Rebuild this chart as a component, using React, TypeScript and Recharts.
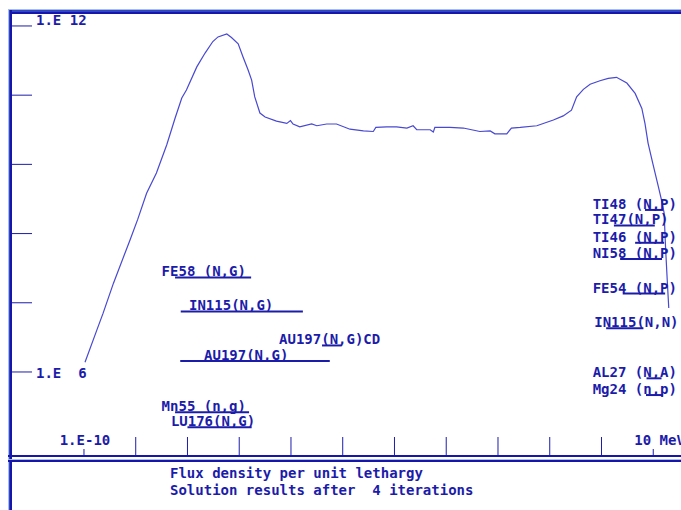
import React from 'react';
import { ComposedChart, Line, Scatter, XAxis, YAxis, ReferenceLine } from 'recharts';

// log10(E / MeV) and log10(flux)
const energyLog = [
  -9.98, -9.75, -9.63, -9.43, -9.11, -8.96, -8.79, -8.6, -8.4, -8.24, -8.11, -8.02, -7.82, -7.66,
  -7.51, -7.41, -7.24, -7.15, -7.02, -6.93, -6.83, -6.76, -6.7, -6.6, -6.5, -6.28, -6.08, -6.01,
  -5.96, -5.83, -5.6, -5.5, -5.31, -5.12, -4.86, -4.6, -4.41, -4.36, -4.15, -3.96, -3.76, -3.64,
  -3.57, -3.31, -3.25, -3.22, -2.93, -2.67, -2.51, -2.35, -2.15, -2.06, -1.83, -1.74, -1.57, -1.25,
  -0.93, -0.74, -0.58, -0.48, -0.35, -0.22, -0.03, 0.13, 0.29, 0.49, 0.65, 0.78, 0.84, 0.9, 0.99,
  1.1, 1.16, 1.21, 1.24, 1.27, 1.3,
];
const fluxLog = [
  6.17, 6.73, 7.02, 7.54, 8.29, 8.65, 9.1, 9.45, 9.94, 10.4, 10.75, 10.89, 11.29, 11.53, 11.73,
  11.81, 11.86, 11.8, 11.69, 11.47, 11.24, 11.06, 10.77, 10.49, 10.42, 10.35, 10.31, 10.36, 10.3,
  10.25, 10.3, 10.27, 10.3, 10.3, 10.21, 10.18, 10.17, 10.24, 10.25, 10.25, 10.23, 10.27, 10.2,
  10.2, 10.16, 10.24, 10.24, 10.23, 10.2, 10.17, 10.18, 10.13, 10.13, 10.23, 10.24, 10.27, 10.37,
  10.44, 10.54, 10.77, 10.9, 10.99, 11.05, 11.09, 11.11, 11.01, 10.83, 10.57, 10.31, 9.97, 9.62,
  9.21, 8.98, 8.76, 8.12, 7.6, 7.11,
];

// reaction labels: text start (log E), underline level (log flux), response range (log E)
const reactionNames = [
  'FE58 (N,G)', 'IN115(N,G)', 'AU197(N,G)CD', 'AU197(N,G)', 'Mn55 (n,g)', 'LU176(N,G)',
  'TI48 (N,P)', 'TI47(N,P)', 'TI46 (N,P)', 'NI58 (N,P)', 'FE54 (N,P)', 'IN115(N,N)',
  'AL27 (N,A)', 'Mg24 (n,p)',
];
const reactionTextE = [-8.5, -7.97, -6.23, -7.68, -8.5, -8.32, -0.17, -0.17, -0.17, -0.17, -0.17, -0.14, -0.17, -0.17];
const reactionLevel = [7.64, 7.05, 6.46, 6.19, 5.3, 5.04, 8.81, 8.54, 8.24, 7.96, 7.36, 6.76, 5.89, 5.6];
const reactionLo = [-8.24, -8.13, -5.4, -8.14, -8.24, -8.0, 0.84, 0.24, 0.65, 0.36, 0.41, 0.09, 0.87, 0.86];
const reactionHi = [-6.77, -5.77, -5.02, -5.25, -6.81, -6.76, 1.19, 1.03, 1.21, 1.17, 1.23, 0.81, 1.16, 1.19];

const xTicks = [-10, -9, -8, -7, -6, -5, -4, -3, -2, -1, 0, 1];
const xTickLabels = ['1.E-10', '', '', '', '', '', '', '', '', '', '', '10 MeV'];
const yTicks = [6, 7.2, 8.4, 9.6, 10.8, 12];
const yTickLabels = ['1.E  6', '', '', '', '', '1.E 12'];
const captionLines = ['Flux density per unit lethargy', 'Solution results after  4 iterations'];

const curve = energyLog.map((x, i) => ({ x, y: fluxLog[i] }));
const reactions = reactionNames.map((name, i) => ({ name, x: reactionTextE[i], y: reactionLevel[i] }));

const CHART_W = 720;
const CHART_H = 510;
const PLOT_LEFT = 11;
const PLOT_TOP = 12;
const PLOT_BOTTOM = 456;
const X_DOMAIN: [number, number] = [-11.41, 2.29];
const Y_DOMAIN: [number, number] = [4.543, 12.242];

const TEXT = '#1c1caa';
const LINE = '#4848d2';
const FONT = "'DejaVu Sans Mono', monospace";

const textStyle = { whiteSpace: 'pre' as const };

const XTick = (props: any) => {
  const { x, index } = props;
  const label = xTickLabels[index];
  const top = label ? PLOT_BOTTOM - 7 : PLOT_BOTTOM - 19;
  const last = index === xTicks.length - 1;
  return (
    <g>
      <line x1={x} x2={x} y1={PLOT_BOTTOM} y2={top} stroke={TEXT} strokeWidth={1} />
      {label && (
        <text
          x={last ? x - 19 : x + 1}
          y={PLOT_BOTTOM - 11}
          textAnchor={last ? 'start' : 'middle'}
          fill={TEXT}
          fontFamily={FONT}
          fontSize={14}
          fontWeight="bold"
          xmlSpace="preserve"
          style={textStyle}
        >
          {label}
        </text>
      )}
    </g>
  );
};

const YTick = (props: any) => {
  const { y, index } = props;
  const label = yTickLabels[index];
  const top = index === yTicks.length - 1;
  return (
    <g>
      <line x1={PLOT_LEFT} x2={PLOT_LEFT + 21} y1={y} y2={y} stroke={TEXT} strokeWidth={1} />
      {label && (
        <text
          x={PLOT_LEFT + 25}
          y={top ? y - 1 : y + 6}
          fill={TEXT}
          fontFamily={FONT}
          fontSize={14}
          fontWeight="bold"
          xmlSpace="preserve"
          style={textStyle}
        >
          {label}
        </text>
      )}
    </g>
  );
};

const ReactionLabel = (props: any) => {
  const { cx, cy, payload } = props;
  return (
    <text
      x={cx}
      y={cy - 1}
      fill={TEXT}
      fontFamily={FONT}
      fontSize={14}
      fontWeight="bold"
      xmlSpace="preserve"
      style={textStyle}
    >
      {payload.name}
    </text>
  );
};

export default function App() {
  return (
    <div
      style={{
        position: 'absolute',
        left: 0,
        top: 0,
        width: 681,
        height: 510,
        overflow: 'hidden',
        background: '#ffffff',
      }}
    >
      <ComposedChart
        width={CHART_W}
        height={CHART_H}
        margin={{ top: PLOT_TOP, left: PLOT_LEFT - 1, right: 0, bottom: CHART_H - PLOT_BOTTOM - 1 }}
      >
        <XAxis
          dataKey="x"
          type="number"
          domain={X_DOMAIN}
          allowDataOverflow
          ticks={xTicks}
          interval={0}
          height={1}
          tickSize={0}
          tickMargin={0}
          tickLine={false}
          axisLine={{ stroke: TEXT, strokeWidth: 2 }}
          tick={<XTick />}
        />
        <YAxis
          dataKey="y"
          type="number"
          domain={Y_DOMAIN}
          allowDataOverflow
          ticks={yTicks}
          interval={0}
          width={1}
          tickSize={0}
          tickMargin={0}
          tickLine={false}
          axisLine={{ stroke: TEXT, strokeWidth: 2 }}
          tick={<YTick />}
        />
        <Line
          data={curve}
          dataKey="y"
          type="linear"
          stroke={LINE}
          strokeWidth={1.2}
          dot={false}
          activeDot={false}
          isAnimationActive={false}
        />
        {reactionNames.map((name, i) => (
          <ReferenceLine
            key={name + i}
            segment={[
              { x: reactionLo[i], y: reactionLevel[i] },
              { x: reactionHi[i], y: reactionLevel[i] },
            ]}
            stroke={TEXT}
            strokeWidth={2}
            ifOverflow="visible"
          />
        ))}
        <Scatter data={reactions} dataKey="y" shape={<ReactionLabel />} isAnimationActive={false} />
      </ComposedChart>
      <svg
        width={681}
        height={510}
        style={{ position: 'absolute', left: 0, top: 0, pointerEvents: 'none' }}
      >
        <rect x={8} y={9} width={681} height={1} fill="#a8bce8" />
        <rect x={9} y={10} width={681} height={2} fill="#3048c6" />
        <rect x={10} y={12} width={681} height={2} fill="#1616ac" />
        <rect x={8} y={9} width={1} height={510} fill="#a8bce8" />
        <rect x={9} y={10} width={1} height={510} fill="#3048c6" />
        <rect x={10} y={10} width={2} height={510} fill="#1616ac" />
        <rect x={8} y={455} width={681} height={2} fill="#1616ac" />
        <rect x={8} y={459} width={681} height={1} fill="#a8bce8" />
        <rect x={8} y={460} width={681} height={2} fill="#1616ac" />
        {captionLines.map((line, i) => (
          <text
            key={line}
            x={170}
            y={478 + i * 17}
            fill={TEXT}
            fontFamily={FONT}
            fontSize={14}
            fontWeight="bold"
            xmlSpace="preserve"
            style={textStyle}
          >
            {line}
          </text>
        ))}
      </svg>
    </div>
  );
}
